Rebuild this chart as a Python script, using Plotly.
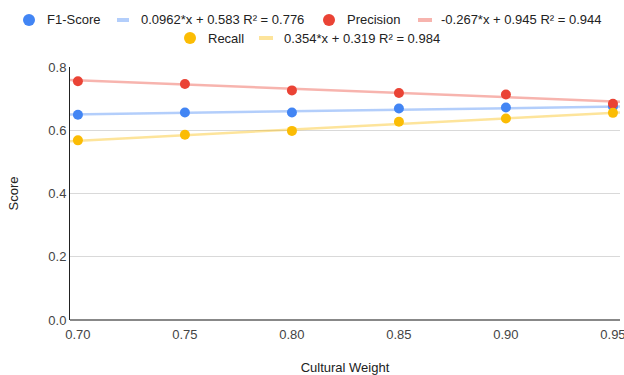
import plotly.graph_objects as go

cultural_weight = [0.70, 0.75, 0.80, 0.85, 0.90, 0.95]
f1_score = [0.649, 0.656, 0.656, 0.669, 0.672, 0.675]
precision = [0.755, 0.746, 0.726, 0.718, 0.713, 0.684]
recall = [0.568, 0.586, 0.598, 0.627, 0.637, 0.655]

series_names = ["F1-Score", "Precision", "Recall"]
trend_slopes = [0.0962, -0.267, 0.354]
trend_intercepts = [0.583, 0.945, 0.319]
trend_labels = ["0.0962*x + 0.583 R² = 0.776",
                "-0.267*x + 0.945 R² = 0.944",
                "0.354*x + 0.319 R² = 0.984"]

y_ticks = [0.0, 0.2, 0.4, 0.6, 0.8]
x_ticks = [0.70, 0.75, 0.80, 0.85, 0.90, 0.95]

colors = ["#4285F4", "#EA4335", "#FBBC04"]
trend_colors = ["rgba(66,133,244,0.4)", "rgba(234,67,53,0.4)", "rgba(251,188,4,0.4)"]

x_range = [0.6963, 0.9533]
font_family = "Arial, Liberation Sans, sans-serif"

W, H = 624, 375
ML, MR, MT, MB = 70, 4, 67, 55
PW, PH = W - ML - MR, H - MT - MB


def px(x):
    return (x - ML) / PW


def py(y):
    return (H - MB - y) / PH


fig = go.Figure()
series_values = [f1_score, precision, recall]

for i, name in enumerate(series_names):
    fig.add_trace(go.Scatter(
        x=x_range,
        y=[trend_slopes[i] * x + trend_intercepts[i] for x in x_range],
        mode="lines", line=dict(color=trend_colors[i], width=2.5),
        name=trend_labels[i], showlegend=False, hoverinfo="skip"))

for i, name in enumerate(series_names):
    fig.add_trace(go.Scatter(
        x=cultural_weight, y=series_values[i], mode="markers", name=name,
        marker=dict(color=colors[i], size=10), showlegend=False,
        cliponaxis=False))

# Custom legend (pixel layout)
legend_items = [
    # (row y, circle x, name text x, trend line x0, x1, trend text x)
    (20, 29, 45, 117, 129, 139),
    (20, 329, 345, 418, 432, 439),
    (38, 190, 206, 259, 273, 282),
]
shapes = []
annotations = []
for i, (ry, cx, tx, lx0, lx1, ltx) in enumerate(legend_items):
    shapes.append(dict(type="circle", xref="paper", yref="paper",
                       xsizemode="pixel", ysizemode="pixel",
                       xanchor=px(cx), yanchor=py(ry),
                       x0=-6, x1=6, y0=-6, y1=6,
                       fillcolor=colors[i], line=dict(width=0)))
    shapes.append(dict(type="line", xref="paper", yref="paper",
                       x0=px(lx0), x1=px(lx1), y0=py(ry), y1=py(ry),
                       line=dict(color=trend_colors[i], width=4)))
    annotations.append(dict(xref="paper", yref="paper", x=px(tx), y=py(ry),
                            xanchor="left", yanchor="middle", showarrow=False,
                            text=series_names[i],
                            font=dict(size=13, color="#222222")))
    annotations.append(dict(xref="paper", yref="paper", x=px(ltx), y=py(ry),
                            xanchor="left", yanchor="middle", showarrow=False,
                            text=trend_labels[i],
                            font=dict(size=13, color="#222222")))

fig.update_layout(
    width=W, height=H,
    margin=dict(l=ML, r=MR, t=MT, b=MB),
    paper_bgcolor="white", plot_bgcolor="white",
    font=dict(family=font_family, size=13, color="#222222"),
    showlegend=False,
    shapes=shapes, annotations=annotations,
    xaxis=dict(range=x_range, tickvals=x_ticks,
               ticktext=[f"{v:.2f}" for v in x_ticks],
               showgrid=False, zeroline=False, showline=False,
               ticks="outside", ticklen=2, tickcolor="rgba(0,0,0,0)",
               ticklabeloverflow="allow", automargin=False,
               tickfont=dict(size=13, color="#444444"),
               title=dict(text="Cultural Weight", font=dict(size=13, color="#222222"),
                          standoff=22)),
    yaxis=dict(range=[0, 0.8], tickvals=y_ticks,
               ticktext=[f"{v:.1f}" for v in y_ticks],
               showgrid=True, gridcolor="#d9d9d9", gridwidth=1,
               zeroline=True, zerolinecolor="#888888", zerolinewidth=2,
               showline=True, linecolor="#222222", linewidth=1,
               automargin=False,
               ticks="", tickfont=dict(size=13, color="#444444"),
               title=dict(text="Score", font=dict(size=13, color="#222222"),
                          standoff=26)),
)

fig.write_html("out.html")
